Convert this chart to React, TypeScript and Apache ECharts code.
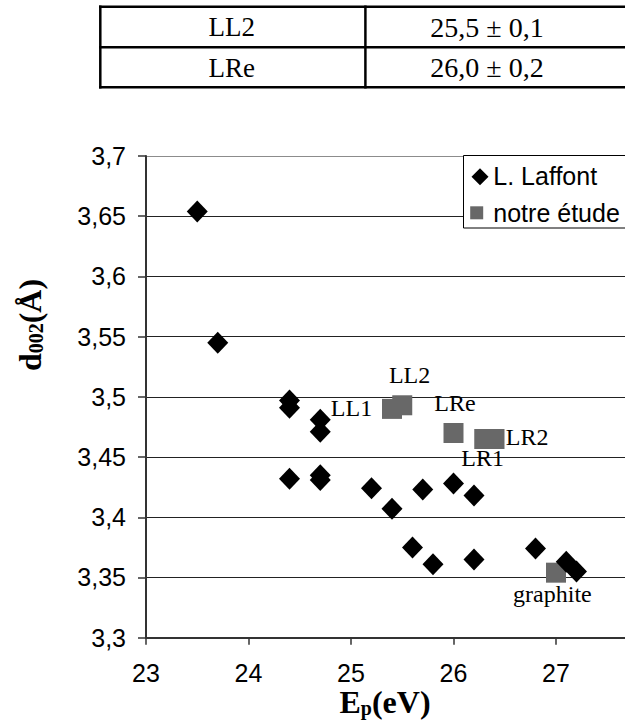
import React, { useEffect, useRef } from 'react';
import * as echarts from 'echarts';

// ---- data ----
const laffontE = [23.5, 23.7, 24.4, 24.4, 24.4, 24.7, 24.7, 24.7, 24.7, 25.2, 25.4, 25.7, 26.0, 26.2, 25.6, 25.8, 26.2, 26.8, 27.1, 27.2];
const laffontD = [3.654, 3.545, 3.497, 3.491, 3.432, 3.481, 3.471, 3.435, 3.431, 3.424, 3.407, 3.423, 3.428, 3.418, 3.375, 3.361, 3.365, 3.374, 3.363, 3.355];
const studyNames = ['LL1', 'LL2', 'LRe', 'LR1', 'LR2', 'graphite'];
const studyE = [25.4, 25.5, 26.0, 26.3, 26.4, 27.0];
const studyD = [3.49, 3.493, 3.47, 3.465, 3.465, 3.354];
const seriesNames = ['L. Laffont', 'notre étude'];
const tableNames = ['LL2', 'LRe'];
const tableValues = ['25,5 ± 0,1', '26,0 ± 0,2'];
const xMin = 23, xMax = 28, xStep = 1;
const yMin = 3.3, yMax = 3.7, yStep = 0.05;

// label placement (style, not data)
const labelOffsets: Record<string, [number, number]> = {
  LL1: [-40.5, -0.6],
  LL2: [7.3, -30.3],
  LRe: [1.4, -29.5],
  LR1: [-1.7, 19],
  LR2: [32.7, -1.9],
  graphite: [-3.6, 21.1],
};

const SERIF = '"Liberation Serif", "Times New Roman", serif';
const SANS = '"Liberation Sans", Arial, sans-serif';

export default function App() {
  const ref = useRef<HTMLDivElement>(null);
  useEffect(() => {
    if (!ref.current) return;
    const chart = echarts.init(ref.current, undefined, { renderer: 'svg' });

    const tableGraphics: any[] = [];
    const rowLines = [6.7, 47.3, 87.3];
    rowLines.forEach((y) =>
      tableGraphics.push({ type: 'line', shape: { x1: 99, y1: y, x2: 700, y2: y }, style: { stroke: '#000', lineWidth: 2.5 } })
    );
    [100.3, 365.4].forEach((x) =>
      tableGraphics.push({ type: 'line', shape: { x1: x, y1: 5.5, x2: x, y2: 88.5 }, style: { stroke: '#000', lineWidth: 2.5 } })
    );
    tableNames.forEach((n, i) => {
      const cy = (rowLines[i] + rowLines[i + 1]) / 2 + 0.3;
      tableGraphics.push({
        type: 'text', x: 231.7, y: cy,
        style: { text: n, fontSize: 27, fontFamily: SERIF, fill: '#000', align: 'center', verticalAlign: 'middle' },
      });
      tableGraphics.push({
        type: 'text', x: 487, y: cy,
        style: { text: tableValues[i], fontSize: 28, fontFamily: SERIF, fill: '#000', align: 'center', verticalAlign: 'middle' },
      });
    });

    const titleRich = {
      a: { fontSize: 32, fontFamily: SERIF, fontWeight: 'bold', fill: '#000' },
      s: { fontSize: 20, fontFamily: SERIF, fontWeight: 'bold', fill: '#000', verticalAlign: 'bottom' },
    };

    const legendGraphics: any[] = [
      { type: 'rect', z: 100, shape: { x: 463.5, y: 155.5, width: 260, height: 72.5 }, style: { fill: '#fff', stroke: '#000', lineWidth: 1 } },
      { type: 'polygon', z: 101, shape: { points: [[480, 168.2], [488.5, 176.7], [480, 185.2], [471.5, 176.7]] }, style: { fill: '#000' } },
      { type: 'rect', z: 101, shape: { x: 470.2, y: 206.3, width: 13, height: 13 }, style: { fill: '#686868' } },
      { type: 'text', z: 101, x: 493.3, y: 176, style: { text: seriesNames[0], fontSize: 25, fontFamily: SANS, fill: '#000', align: 'left', verticalAlign: 'middle' } },
      { type: 'text', z: 101, x: 493.3, y: 212.5, style: { text: seriesNames[1], fontSize: 25, fontFamily: SANS, fill: '#000', align: 'left', verticalAlign: 'middle' } },
    ];

    const splitColors = ['#222', '#222', '#222', '#222', '#222', '#222', '#222', '#222', '#8c8c8c'];

    chart.setOption({
      animation: false,
      backgroundColor: '#fff',
      grid: { left: 146, top: 156, width: 512.5, height: 481.7 },
      xAxis: {
        type: 'value', min: xMin, max: xMax, interval: xStep,
        axisLine: { show: true, onZero: false, lineStyle: { color: '#333', width: 2 } },
        axisTick: { show: true, inside: false, length: 7, lineStyle: { color: '#333', width: 1.5 } },
        axisLabel: {
          show: true, margin: 23, color: '#000', fontSize: 25, fontFamily: SANS, showMaxLabel: false,
          formatter: (v: number) => (v >= xMax ? '' : String(Math.round(v))),
        },
        splitLine: { show: false },
      },
      yAxis: {
        type: 'value', min: yMin, max: yMax, interval: yStep,
        axisLine: { show: true, onZero: false, lineStyle: { color: '#333', width: 2 } },
        axisTick: { show: true, inside: false, length: 8, lineStyle: { color: '#333', width: 1.5 } },
        axisLabel: {
          show: true, margin: 20, color: '#000', fontSize: 25, fontFamily: SANS,
          formatter: (v: number) => parseFloat(v.toFixed(2)).toString().replace('.', ','),
        },
        splitLine: { show: true, lineStyle: { color: splitColors, width: 1.2 } },
      },
      series: [
        {
          name: seriesNames[1], type: 'scatter', symbol: 'rect', symbolSize: 20, z: 3,
          itemStyle: { color: '#686868', opacity: 1 },
          emphasis: { disabled: true },
          data: studyE.map((e, i) => ({
            name: studyNames[i], value: [e, studyD[i]],
            label: { show: true, position: 'inside', offset: labelOffsets[studyNames[i]], formatter: '{b}', color: '#000', opacity: 1, fontSize: 24, fontFamily: SERIF },
          })),
        },
        {
          name: seriesNames[0], type: 'scatter', symbol: 'diamond', symbolSize: [21, 22], z: 4,
          itemStyle: { color: '#000', opacity: 1 },
          emphasis: { disabled: true },
          data: laffontE.map((e, i) => [e, laffontD[i]]),
        },
      ],
      graphic: [
        ...tableGraphics,
        {
          type: 'text', x: 385, y: 702,
          style: { text: '{a|E}{s|p}{a|(eV)}', rich: titleRich, align: 'center', verticalAlign: 'middle' },
        },
        {
          type: 'text', x: 29.5, y: 325, rotation: Math.PI / 2,
          style: { text: '{a|d}{s|002}{a|(Å)}', rich: titleRich, align: 'center', verticalAlign: 'middle' },
        },
        ...legendGraphics,
      ],
    });
    return () => chart.dispose();
  }, []);

  return (
    <div style={{ position: 'fixed', left: 0, top: 0, width: 625, height: 722, overflow: 'hidden', background: '#fff' }}>
      <div ref={ref} style={{ width: 700, height: 722 }} />
    </div>
  );
}
